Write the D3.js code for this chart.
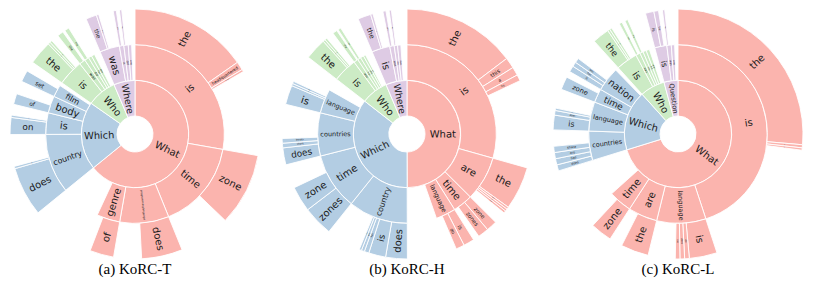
<!DOCTYPE html>
<html><head><meta charset="utf-8">
<script src="https://cdn.jsdelivr.net/npm/d3@7"></script>
<style>body{margin:0;background:#fff}</style>
</head><body>
<svg id="c" width="814" height="294"></svg>
<script>
// ---------- (a) KoRC-T ----------
const a_level1 = [["What",64.2],["Which",20.6],["Who",8.9],["Where",6.4]];
const a_level2 = [
 ["What","is",27.8],["What","time",16.1],["What","programminglanguage",8.9],["What","genre",4.2],
 ["Which","country",10.8],["Which","is",3.9],["Which","body",3.1],["Which","film",2.2],
 ["Who","is",4.7],["Who","was",1.1],["Who","did",0.8],["Who","has",0.6],["Who","won",0.6],
 ["Where","was",3.6],["Where","is",0.8],["Where","did",0.8],["Where","does",0.6]];
const a_level3 = [
 ["What/is","the",15.3],["What/is","headquartered",1.1],["What/is","located",0.3],
 ["What/time","zone",9.4],
 ["What/programminglanguage","does",5.3],
 ["What/genre","of",3.1],
 ["Which/country","does",6.4],["Which/country","is",0.3],
 ["Which/is","on",2.2],["Which/is","in",0.3],
 ["Which/body","of",1.4],
 ["Which/film","set",1.5],
 ["Who/is","the",3.1],["Who/is","a",0.3],["Who/is","an",0.3],
 ["Who/was","the",0.8],["Who/did","the",0.6],
 ["Where/was","the",1.4],["Where/was","born",0.3],["Where/is","the",0.4],["Where/did","the",0.3]];

// ---------- (b) KoRC-H ----------
const b_level1 = [["What",50.0],["Which",35.6],["Who",8.1],["Where",6.4]];
const b_level2 = [
 ["What","is",29.4],["What","are",8.1],["What","time",3.6],["What","language",3.6],
 ["Which","country",10.8],["Which","time",10.3],["Which","countries",7.8],["Which","language",4.4],
 ["Who","is",4.4],["Who","was",0.8],["Who","has",0.6],["Who","did",0.6],["Who","are",0.4],
 ["Where","is",3.3],["Where","was",0.8],["Where","are",0.6],["Where","does",0.6]];
const b_level3 = [
 ["What/is","the",14.7],["What/is","this",1.4],["What/is","a",1.1],["What/is","its",0.8],
 ["What/are","the",5.6],["What/are","some",0.3],["What/are","a",0.3],["What/are","they",0.3],
 ["What/time","zone",1.4],["What/time","zones",1.4],
 ["What/language","is",1.4],["What/language","do",1.1],
 ["Which/country","does",2.8],["Which/country","is",2.2],["Which/country","has",0.6],["Which/country","was",0.4],["Which/country","are",0.3],
 ["Which/time","zones",3.9],["Which/time","zone",3.3],
 ["Which/countries","does",2.2],["Which/countries","share",0.6],["Which/countries","border",0.6],
 ["Which/language","is",2.5],["Which/language","in",0.3],["Which/language","has",0.3],
 ["Who/is","the",2.8],["Who/is","a",0.3],["Who/is","an",0.3],
 ["Who/was","the",0.6],["Who/has","the",0.4],
 ["Where/is","the",1.7],["Where/is","a",0.3],["Where/was","born",0.4],["Where/are","the",0.3]];

// ---------- (c) KoRC-L ----------
const c_level1 = [["What",70.3],["Which",18.1],["Who",7.5],["Question",4.2]];
const c_level2 = [
 ["What","is",45.0],["What","language",8.9],["What","are",5.3],["What","time",4.2],
 ["Which","countries",5.3],["Which","language",5.3],["Which","time",2.5],["Which","nation",4.4],
 ["Who","is",3.9],["Who","was",0.8],["Who","has",0.6],["Who","did",0.6],["Who","won",0.6],
 ["Question","is",2.2],["Question","was",0.8],["Question","does",0.6]];
const c_level3 = [
 ["What/is","the",26.4],["What/is","a",0.4],["What/is","an",0.3],
 ["What/language","is",3.6],["What/language","do",0.6],["What/language","does",0.6],["What/language","are",0.6],
 ["What/are","the",3.6],
 ["What/time","zone",2.8],
 ["Which/countries","does",0.8],["Which/countries","has",0.8],["Which/countries","are",0.8],["Which/countries","share",0.8],
 ["Which/language","is",1.9],["Which/language","does",0.6],["Which/language","has",0.3],
 ["Which/time","zone",1.7],
 ["Which/nation","is",0.8],["Which/nation","has",0.6],["Which/nation","was",0.6],
 ["Who/is","the",2.2],["Who/is","a",0.3],["Who/is","an",0.3],
 ["Who/was","the",0.4],["Who/has","the",0.4],
 ["Question/is","is",1.1],["Question/is","the",0.6],["Question/was","the",0.3]];

const captions = ["(a) KoRC-T","(b) KoRC-H","(c) KoRC-L"];
const centersX = [135, 407, 678];
const centerY = 134;
const colorByTop = {What:"#fbb4ae", Which:"#b3cde3", Who:"#ccebc5", Where:"#decbe4", Question:"#decbe4"};

function build(l1, l2, l3){
  const root = {name:"root", children:[]};
  const map = new Map();
  l1.forEach(([n,v]) => { const o={name:n,value:v,top:n,children:[]}; root.children.push(o); map.set(n,o); });
  l2.forEach(([p,n,v]) => { const par=map.get(p); const o={name:n,value:v,top:par.top,children:[]}; par.children.push(o); map.set(p+"/"+n,o); });
  l3.forEach(([p,n,v]) => { const par=map.get(p); par.children.push({name:n,value:v,top:par.top,children:[]}); });
  function pad(node){
    if(node.children.length){
      node.children.forEach(pad);
      const s = d3.sum(node.children, c=>c.value);
      if(node.value - s > 1e-9) node.children.push({name:"",value:node.value-s,hidden:true,children:[]});
    }
  }
  root.children.forEach(pad);
  return d3.hierarchy(root, d=>d.children.length?d.children:null).sum(d=>d.children.length?0:d.value);
}

const svg = d3.select("#c");
const rScale = d3.scaleLinear().domain([1,4]).range([18,125]);
const arc = d3.arc()
  .startAngle(d=>d.x0).endAngle(d=>d.x1)
  .innerRadius(d=>rScale(d.y0)).outerRadius(d=>rScale(d.y1));

const datasets = [[a_level1,a_level2,a_level3],[b_level1,b_level2,b_level3],[c_level1,c_level2,c_level3]];

datasets.forEach((ds,i)=>{
  const root = d3.partition().size([2*Math.PI, 4])(build(...ds));
  const g = svg.append("g").attr("transform",`translate(${centersX[i]},${centerY})`);
  const nodes = root.descendants().filter(d=>d.depth>0 && !d.data.hidden);
  g.selectAll("path").data(nodes).join("path")
    .attr("d", arc)
    .attr("fill", d=>colorByTop[d.data.top])
    .attr("stroke","#fff").attr("stroke-width",0.9);
  const thick = rScale(2)-rScale(1);
  nodes.forEach(d=>{
    const a = (d.x0+d.x1)/2;
    const rm = (rScale(d.y0)+rScale(d.y1))/2;
    const arcW = (d.x1-d.x0)*rm;
    const deg = a*180/Math.PI;
    const rot = deg<=180 ? deg-90 : deg-270;
    const t = g.append("text")
      .attr("text-anchor","middle").attr("dominant-baseline","central")
      .style("font-family","'DejaVu Sans'").style("font-size","10px")
      .attr("fill","#1a1a1a").text(d.data.name);
    const len = t.node().getComputedTextLength();
    const wFactor = d.depth===3 ? 0.6 : 0.8;
    const fs = Math.min(10, 10*0.85*thick/len, arcW*wFactor);
    if(fs<1.2){ t.remove(); return; }
    t.style("font-size", fs+"px")
     .attr("transform",`translate(${Math.sin(a)*rm},${-Math.cos(a)*rm}) rotate(${rot})`);
  });
  svg.append("text").attr("x",centersX[i]).attr("y",274)
    .attr("text-anchor","middle")
    .style("font-family","'Liberation Serif', 'Times New Roman', Times, serif").style("font-size","15px")
    .attr("fill","#000").text(captions[i]);
});
</script>
</body></html>
